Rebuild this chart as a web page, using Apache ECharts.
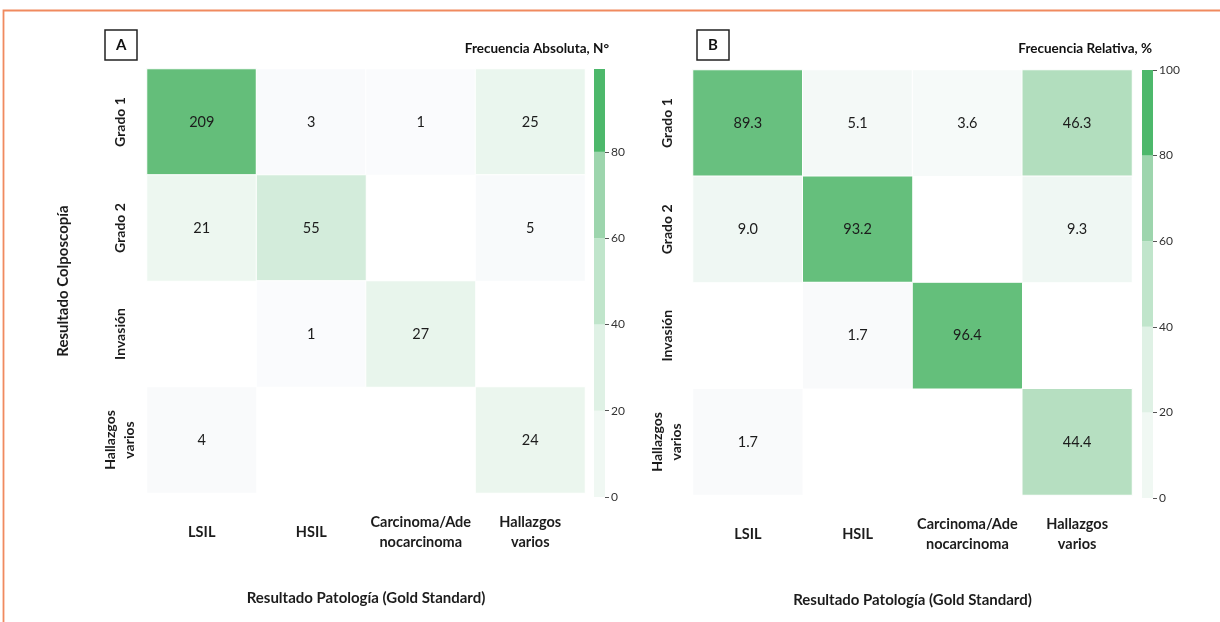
<!DOCTYPE html>
<html>
<head>
<meta charset="utf-8">
<script src="https://cdn.jsdelivr.net/npm/echarts@6/dist/echarts.min.js"></script>
<style>
html,body{margin:0;padding:0;background:#fff;}
#chart{width:1220px;height:622px;}
</style>
</head>
<body>
<div id="chart"></div>
<script>
// ---- data ----
var rowLabels = ['Grado 1', 'Grado 2', 'Invasión', 'Hallazgos\nvarios'];
var colLabels = ['LSIL', 'HSIL', 'Carcinoma/Ade\nnocarcinoma', 'Hallazgos\nvarios'];
var absCounts = [
  [209, 3, 1, 25],
  [21, 55, null, 5],
  [null, 1, 27, null],
  [4, null, null, 24]
];
var relPercent = [
  [89.3, 5.1, 3.6, 46.3],
  [9.0, 93.2, null, 9.3],
  [null, 1.7, 96.4, null],
  [1.7, null, null, 44.4]
];
var barBandSizes = [20, 20, 20, 20, 20];
var ticksA = [0, 20, 40, 60, 80];
var ticksB = [0, 20, 40, 60, 80, 100];
var colorbarMaxA = 99.2;
var colorbarMaxB = 100;

// ---- styles ----
var bandColors = ['#f0f8f3', '#dff1e5', '#c0e5cb', '#9dd5ad', '#4db86b'];
var cellColorsA = ['#fbfbfd', '#f5f9f8', '#eef7f1', '#e6f4ea', '#dcf0e2', '#d6edde', '#d0ead7', '#b8dfc3', '#9ed4ad', '#81c994', '#64be7a'];
var cellColorsB = ['#fbfbfd', '#eef7f2', '#e2f2e7', '#d3ecdb', '#bee3c8', '#abdbb8', '#9ad3aa', '#89cc9c', '#78c68e', '#67c07e', '#62be79'];
var FONT = 'Lato';
var TXT = '#1c1c1c';

function toCells(matrix) {
  var out = [];
  matrix.forEach(function (row, r) {
    row.forEach(function (v, c) {
      if (v !== null && v !== undefined) out.push([c, r, v]);
    });
  });
  return out;
}

var chart = echarts.init(document.getElementById('chart'));

function heatX(gi) {
  return {
    type: 'category', gridIndex: gi, data: colLabels,
    axisLine: {show: false}, axisTick: {show: false}, splitLine: {show: false}, splitArea: {show: false},
    axisLabel: {fontFamily: FONT, fontWeight: 'bold', fontSize: 14.5, color: TXT, margin: 39, lineHeight: 20,
      interval: 0, verticalAlign: 'middle'},
    name: 'Resultado Patología (Gold Standard)', nameLocation: 'middle', nameGap: 98,
    nameTextStyle: {fontFamily: FONT, fontWeight: 'bold', fontSize: 15, color: TXT}
  };
}
function heatY(gi, showName, margin) {
  return {
    type: 'category', gridIndex: gi, data: rowLabels, inverse: true,
    axisLine: {show: false}, axisTick: {show: false}, splitLine: {show: false}, splitArea: {show: false},
    axisLabel: {fontFamily: FONT, fontWeight: 'bold', fontSize: 14, color: TXT, rotate: 90, margin: margin,
      lineHeight: 19, interval: 0, align: 'center', verticalAlign: 'middle'},
    name: showName ? 'Resultado Colposcopía' : '', nameLocation: 'middle', nameGap: 76, nameRotate: 90,
    nameTextStyle: {fontFamily: FONT, fontWeight: 'bold', fontSize: 15, color: TXT}
  };
}
function barX(gi) {
  return {type: 'category', gridIndex: gi, data: [''], show: false};
}
function barY(gi, max, ticks) {
  return {
    type: 'value', gridIndex: gi, min: 0, max: max, position: 'right',
    axisLine: {show: false}, splitLine: {show: false},
    axisTick: {show: true, length: 4, lineStyle: {color: '#555', width: 1}, customValues: ticks},
    axisLabel: {fontFamily: FONT, fontSize: 12, color: '#333', margin: 6, customValues: ticks}
  };
}

var series = [
  {
    type: 'heatmap', xAxisIndex: 0, yAxisIndex: 0, data: toCells(absCounts),
    label: {show: true, fontFamily: FONT, fontSize: 14.5, color: TXT},
    itemStyle: {borderColor: '#fff', borderWidth: 1},
    emphasis: {disabled: true}
  },
  {
    type: 'heatmap', xAxisIndex: 1, yAxisIndex: 1, data: toCells(relPercent),
    label: {show: true, fontFamily: FONT, fontSize: 14.5, color: TXT,
      formatter: function (p) { return p.value[2].toFixed(1); }},
    itemStyle: {borderColor: '#fff', borderWidth: 1},
    emphasis: {disabled: true}
  }
];
[2, 3].forEach(function (gi) {
  barBandSizes.forEach(function (v, i) {
    series.push({
      type: 'bar', xAxisIndex: gi, yAxisIndex: gi, stack: 'cb' + gi, data: [v],
      barWidth: '100%', barCategoryGap: 0, clip: true, silent: true,
      itemStyle: {color: bandColors[i]}
    });
  });
});

var option = {
  backgroundColor: '#fff',
  animation: false,
  textStyle: {fontFamily: FONT},
  title: [
    {text: 'A', left: 105, top: 30, padding: [8, 11, 7, 11], borderColor: '#222', borderWidth: 1.5,
      textStyle: {fontFamily: FONT, fontWeight: 'bold', fontSize: 15, color: '#111'}},
    {text: 'B', left: 697, top: 30, padding: [8, 11, 7, 11], borderColor: '#222', borderWidth: 1.5,
      textStyle: {fontFamily: FONT, fontWeight: 'bold', fontSize: 15, color: '#111'}},
    {text: 'Frecuencia Absoluta, N°', right: 606, top: 37,
      textStyle: {fontFamily: FONT, fontWeight: 'bold', fontSize: 13.5, color: '#111'}},
    {text: 'Frecuencia Relativa, %', right: 63, top: 37,
      textStyle: {fontFamily: FONT, fontWeight: 'bold', fontSize: 13.5, color: '#111'}}
  ],
  graphic: [
    {type: 'polyline', silent: true, shape: {points: [[3.5, 622], [3.5, 10.5], [1220, 10.5]]},
      style: {stroke: '#f08a5f', lineWidth: 1.8, fill: null}}
  ],
  grid: [
    {left: 147, top: 69, width: 438, height: 424},
    {left: 693, top: 70, width: 439, height: 425},
    {left: 594, top: 69, width: 11, height: 428},
    {left: 1142, top: 70, width: 11, height: 428}
  ],
  xAxis: [heatX(0), heatX(1), barX(2), barX(3)],
  yAxis: [heatY(0, true, 27), heatY(1, false, 26), barY(2, colorbarMaxA, ticksA), barY(3, colorbarMaxB, ticksB)],
  visualMap: [
    {type: 'continuous', show: false, seriesIndex: 0, min: 0, max: 100, inRange: {color: cellColorsA}},
    {type: 'continuous', show: false, seriesIndex: 1, min: 0, max: 100, inRange: {color: cellColorsB}}
  ],
  series: series
};
chart.setOption(option);
</script>
</body>
</html>
